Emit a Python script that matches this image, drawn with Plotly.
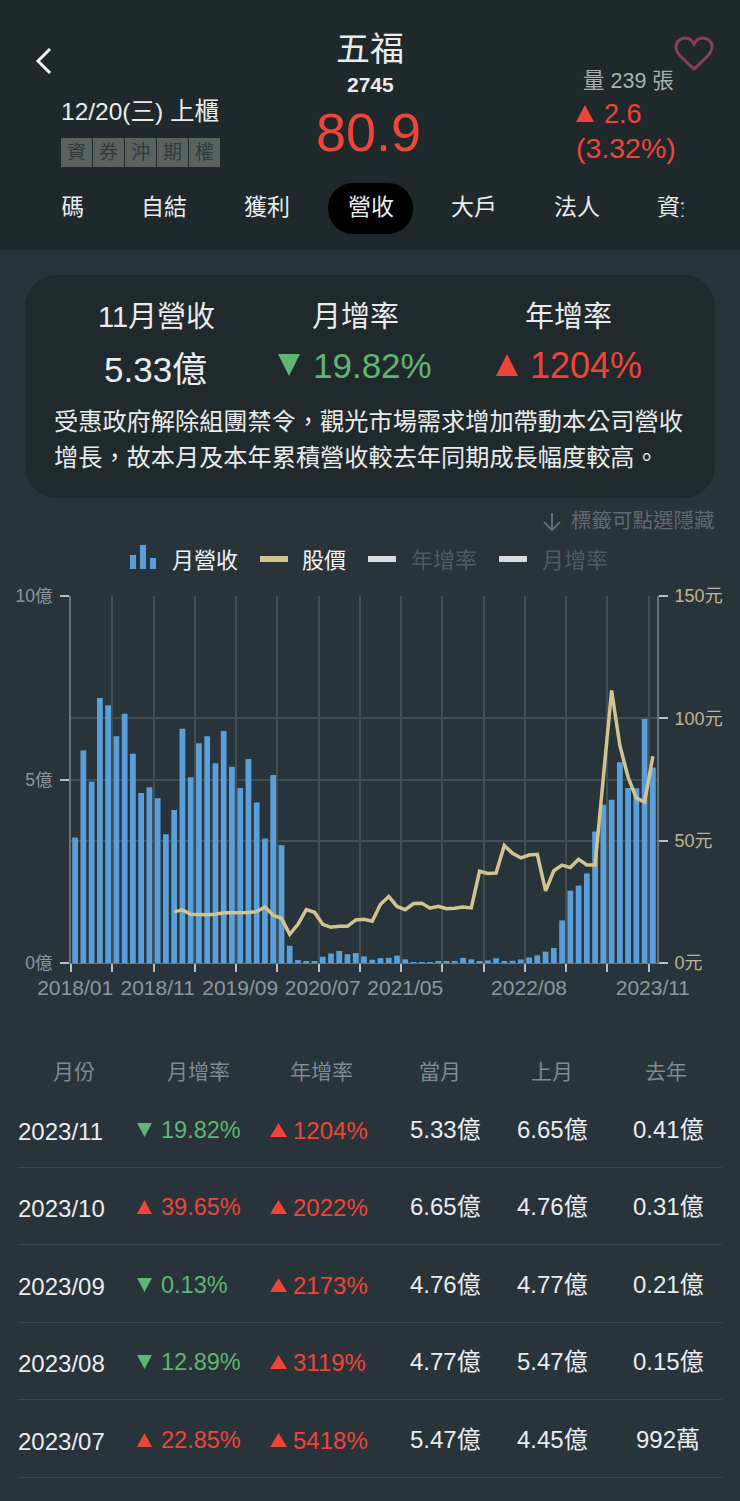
import plotly.graph_objects as go

W, H = 740, 1501
FONT = "Liberation Sans, Noto Sans CJK TC"

# monthly revenue (億), 2018/01 - 2023/11
revenue = [3.42, 5.79, 4.94, 7.22, 7.02, 6.18, 6.79, 5.70, 4.63, 4.79, 4.49, 3.51,
           4.17, 6.38, 5.06, 5.99, 6.18, 5.44, 6.32, 5.35, 4.77, 5.56, 4.37, 3.39,
           5.12, 3.21, 0.47, 0.08, 0.04, 0.05, 0.17, 0.26, 0.33, 0.24, 0.27, 0.18,
           0.09, 0.13, 0.14, 0.20, 0.10, 0.01, 0.01, 0.02, 0.03, 0.05, 0.05, 0.14,
           0.10, 0.05, 0.07, 0.13, 0.05, 0.06, 0.0992, 0.15, 0.21, 0.31, 0.41, 1.16,
           1.97, 2.11, 2.44, 3.58, 4.31, 4.45, 5.47, 4.77, 4.76, 6.65, 5.33]

# share price starts in 2019/01
price = [None] * 12 + [
    20.9, 21.7, 19.9, 19.7, 19.7, 19.9, 20.5, 20.5, 20.5, 20.6, 21.0, 22.9,
    19.5, 18.3, 11.7, 15.8, 21.8, 20.7, 15.8, 14.6, 15.0, 15.0, 17.6, 17.9,
    17.1, 24.0, 27.2, 23.1, 21.8, 24.3, 24.4, 22.4, 23.2, 22.2, 22.4, 22.9,
    22.5, 37.5, 36.6, 36.8, 48.0, 44.8, 43.0, 44.1, 44.4, 29.5, 37.7, 40.0,
    39.0, 42.4, 40.1, 40.1, 75.9, 111.4, 88.9, 75.9, 67.4, 65.8, 84.5]

month_index = list(range(len(revenue)))
x_label_index = [0, 10, 20, 30, 40, 55, 70]
x_labels = ["2018/01", "2018/11", "2019/09", "2020/07", "2021/05", "2022/08", "2023/11"]
left_ticks = [0, 5, 10]
left_labels = ["0億", "5億", "10億"]
right_ticks = [0, 50, 100, 150]
right_labels = ["0元", "50元", "100元", "150元"]

tabs = ["籌碼", "自結", "獲利", "營收", "大戶", "法人", "資金"]
badges = ["資", "券", "沖", "期", "權"]
table_head = ["月份", "月增率", "年增率", "當月", "上月", "去年"]
table_month = ["2023/11", "2023/10", "2023/09", "2023/08", "2023/07"]
table_mom = ["19.82%", "39.65%", "0.13%", "12.89%", "22.85%"]
table_mom_up = [False, True, False, False, True]
table_yoy = ["1204%", "2022%", "2173%", "3119%", "5418%"]
table_cur = ["5.33億", "6.65億", "4.76億", "4.77億", "5.47億"]
table_prev = ["6.65億", "4.76億", "4.77億", "5.47億", "4.45億"]
table_last = ["0.41億", "0.31億", "0.21億", "0.15億", "992萬"]

HEADER = "#1f292c"
BODY = "#29333a"
RED = "#ef4438"
GREEN = "#5fb573"
TAN = "#d3c48f"
BLUE = "#5a9fd8"
GRID = "#424d54"
AXIS = "#6a747b"
TICK = "#b9bfc3"


def X(x):
    return x / W


def Y(y):
    return 1 - y / H


shapes = []
notes = []


def text(x, y, s, size, color="#e8ecee", anchor="center", bold=False):
    if bold:
        s = "<b>" + s + "</b>"
    notes.append(dict(x=X(x), y=Y(y), xref="paper", yref="paper", text=s, showarrow=False,
                      xanchor=anchor, yanchor="middle", align=anchor,
                      font=dict(size=size, color=color, family=FONT)))


def rect(x0, y0, x1, y1, color, layer="below"):
    shapes.append(dict(type="rect", xref="paper", yref="paper", x0=X(x0), x1=X(x1), y0=Y(y1), y1=Y(y0),
                       fillcolor=color, line_width=0, layer=layer))


def path(points, color, width):
    d = "M " + " L ".join(f"{X(a)},{Y(b)}" for a, b in points)
    shapes.append(dict(type="path", xref="paper", yref="paper", path=d, line=dict(color=color, width=width),
                       layer="below"))


def triangle(x0, x1, y0, y1, up, color):
    if up:
        pts = [(x0, y1), (x1, y1), ((x0 + x1) / 2, y0)]
    else:
        pts = [(x0, y0), (x1, y0), ((x0 + x1) / 2, y1)]
    d = "M " + " L ".join(f"{X(a)},{Y(b)}" for a, b in pts) + " Z"
    shapes.append(dict(type="path", xref="paper", yref="paper", path=d, fillcolor=color, line_width=0, layer="below"))


def round_rect(x0, y0, x1, y1, r, color):
    c = 0.45 * r
    p = (f"M {X(x0 + r)},{Y(y0)} L {X(x1 - r)},{Y(y0)} "
         f"C {X(x1 - c)},{Y(y0)} {X(x1)},{Y(y0 + c)} {X(x1)},{Y(y0 + r)} L {X(x1)},{Y(y1 - r)} "
         f"C {X(x1)},{Y(y1 - c)} {X(x1 - c)},{Y(y1)} {X(x1 - r)},{Y(y1)} L {X(x0 + r)},{Y(y1)} "
         f"C {X(x0 + c)},{Y(y1)} {X(x0)},{Y(y1 - c)} {X(x0)},{Y(y1 - r)} L {X(x0)},{Y(y0 + r)} "
         f"C {X(x0)},{Y(y0 + c)} {X(x0 + c)},{Y(y0)} {X(x0 + r)},{Y(y0)} Z")
    shapes.append(dict(type="path", xref="paper", yref="paper", path=p, fillcolor=color, line_width=0, layer="below"))


# header
rect(0, 0, W, 250, HEADER)
path([(50, 49), (38, 61), (50, 73)], "#f2f4f5", 3)
heart = (f"M {X(694)},{Y(69)} C {X(682)},{Y(58)} {X(676)},{Y(53)} {X(676)},{Y(47)} "
         f"C {X(676)},{Y(41)} {X(681)},{Y(38)} {X(685)},{Y(38)} C {X(689)},{Y(38)} {X(692)},{Y(40)} {X(694)},{Y(44)} "
         f"C {X(696)},{Y(40)} {X(699)},{Y(38)} {X(703)},{Y(38)} C {X(707)},{Y(38)} {X(712)},{Y(41)} {X(712)},{Y(47)} "
         f"C {X(712)},{Y(53)} {X(706)},{Y(58)} {X(694)},{Y(69)} Z")
shapes.append(dict(type="path", xref="paper", yref="paper", path=heart, line=dict(color="#8c3c64", width=3), layer="below"))

text(370, 49, "五福", 34)
text(370, 85, "2745", 21, bold=True)
text(368, 132, "80.9", 54, RED)
text(59, 112, "12/20(三) 上櫃", 24.5, anchor="left")
text(628, 81, "量 239 張", 21.5, "#a9b0b4")
triangle(576, 594, 105, 122, True, RED)
text(602, 114, "2.6", 27, RED, anchor="left")
text(574, 148, "(3.32%)", 28.5, RED, anchor="left")

for i, b in enumerate(badges):
    x0 = 61 + i * 32
    rect(x0, 138, x0 + 31, 167, "#59625f")
    text(x0 + 15.5, 152.5, b, 19, "#2f3a3b")

round_rect(328, 183, 413, 234, 25, "#000000")
for i, t in enumerate(tabs):
    text(61 + i * 103.2, 207, t, 23)
# the tab strip is scrolled, ends of it are cut off
for x0, x1 in [(30, 61), (685, 715)]:
    notes.append(dict(x=X((x0 + x1) / 2), y=Y(207), xref="paper", yref="paper", text=" ", showarrow=False,
                      xanchor="center", yanchor="middle", width=x1 - x0, height=34, bgcolor=HEADER))

# summary card
round_rect(25, 275, 715, 498, 32, "#202a2d")
text(156, 317, "11月營收", 29)
text(355, 317, "月增率", 29)
text(568, 317, "年增率", 29)
text(155, 369, "5.33億", 35)
triangle(278, 300, 354, 376, False, GREEN)
text(311, 365, "19.82%", 35, GREEN, anchor="left")
triangle(496, 518, 354, 376, True, RED)
text(528, 365, "1204%", 36, RED, anchor="left")
text(52, 422, "受惠政府解除組團禁令，觀光市場需求增加帶動本公司營收", 24.2, anchor="left")
text(52, 457, "增長，故本月及本年累積營收較去年同期成長幅度較高。", 24.2, anchor="left")

# legend, drawn by hand like the app does
path([(552, 513), (552, 530)], "#626c73", 2)
path([(544, 522), (552, 530), (560, 522)], "#626c73", 2)
text(717, 520, "標籤可點選隱藏", 20.5, "#5f696f", anchor="right")
rect(130, 555, 136, 569, BLUE)
rect(140, 545, 146, 569, BLUE)
rect(150, 558, 156, 569, BLUE)
text(170, 560, "月營收", 22, "#f2f4f5", anchor="left")
rect(260, 556, 288, 562, TAN)
text(300, 560, "股價", 22, "#f2f4f5", anchor="left")
rect(368, 556, 396, 562, "#d8dcdf")
text(409, 560, "年增率", 22, "#4f5a62", anchor="left")
rect(499, 556, 527, 562, "#d8dcdf")
text(540, 560, "月增率", 22, "#4f5a62", anchor="left")

# table
columns = [74, 198, 321, 440, 552, 666]
for cx, t in zip(columns, table_head):
    text(cx, 1071, t, 21, "#7f8a91")
row_y = [1129, 1206, 1284, 1361, 1439]
for i, y in enumerate(row_y):
    text(16, y + 2, table_month[i], 24, anchor="left")
    up = table_mom_up[i]
    triangle(137, 152, y - 6, y + 8, up, RED if up else GREEN)
    text(159, y + 1, table_mom[i], 23.5, RED if up else GREEN, anchor="left")
    triangle(270, 287, y - 6, y + 8, True, RED)
    text(291, y + 1, table_yoy[i], 24, RED, anchor="left")
    text(446, y, table_cur[i], 24)
    text(552, y, table_prev[i], 24)
    text(668, y, table_last[i], 24)
    rect(18, y + 38, 722, y + 39, "#3a454c")

fig = go.Figure()
fig.add_trace(go.Bar(x=month_index, y=revenue, name="月營收", width=0.7, marker=dict(color=BLUE, line_width=0)))
fig.add_trace(go.Scatter(x=month_index, y=price, name="股價", mode="lines", yaxis="y2",
                         line=dict(color=TAN, width=3.5), connectgaps=False))

band_edges = [i - 0.5 for i in range(0, len(revenue), 5)]
fig.update_layout(
    width=W, height=H, margin=dict(l=0, r=0, t=0, b=0, autoexpand=False), showlegend=False,
    paper_bgcolor=BODY, plot_bgcolor=BODY, font=dict(family=FONT),
    shapes=shapes, annotations=notes,
    xaxis=dict(domain=[X(71), X(657)], range=[-0.5, 70.5], tickmode="array", tickvals=x_label_index,
               ticktext=x_labels, showgrid=False, ticks="", ticklabelstandoff=6, zeroline=False, automargin=False,
               showline=True, linecolor=AXIS, ticklabeloverflow="allow",
               tickfont=dict(size=21, color="#8d979e"),
               minor=dict(tickmode="array", tickvals=band_edges, ticks="outside", ticklen=8, tickwidth=2,
                          tickcolor=TICK, showgrid=True, gridcolor=GRID, gridwidth=1.5)),
    yaxis=dict(domain=[Y(963), Y(596)], range=[0, 10], tickmode="array", tickvals=left_ticks, ticktext=left_labels,
               ticks="outside", ticklen=9, tickwidth=2, tickcolor=TICK, gridcolor=GRID, gridwidth=1.5,
               showline=True, linecolor=AXIS, linewidth=2, zeroline=False, automargin=False,
               ticklabelstandoff=4, tickfont=dict(size=17.5, color="#8d979e")),
    yaxis2=dict(overlaying="y", side="right", anchor="x", range=[0, 150], tickmode="array", tickvals=right_ticks,
                ticktext=right_labels, ticks="outside", ticklen=9, tickwidth=2, tickcolor=TICK,
                gridcolor=GRID, gridwidth=1.5, showgrid=True, automargin=False,
                showline=True, linecolor=AXIS, linewidth=2, zeroline=False,
                ticklabelstandoff=3, tickfont=dict(size=18, color="#bdb594")),
)

fig.write_html("out.html", config={"displayModeBar": False},
               post_script="document.body.style.margin='0';document.body.style.background='" + BODY + "';")
